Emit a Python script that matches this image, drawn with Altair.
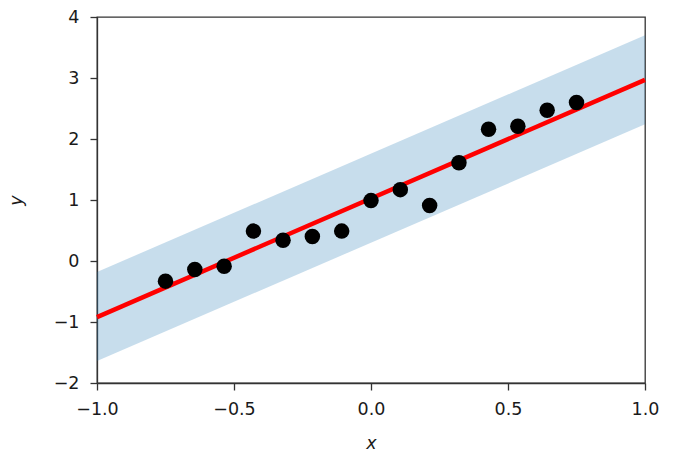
import altair as alt
import pandas as pd

# observed points
pts_x = [-0.75, -0.643, -0.536, -0.429, -0.321, -0.214, -0.107, 0.0,
         0.107, 0.214, 0.321, 0.429, 0.536, 0.643, 0.75]
pts_y = [-0.33, -0.14, -0.085, 0.49, 0.34, 0.40, 0.49, 0.99,
         1.17, 0.91, 1.61, 2.16, 2.21, 2.47, 2.60]

# fitted line and prediction band
fit_x = [-1.0, 1.0]
fit_y = [-0.92, 2.97]
band_lo = [-1.64, 2.24]
band_hi = [-0.18, 3.70]

x_ticks = [-1.0, -0.5, 0.0, 0.5, 1.0]
y_ticks = [-2, -1, 0, 1, 2, 3, 4]

pts = pd.DataFrame({"x": pts_x, "y": pts_y})
fit = pd.DataFrame({"x": fit_x, "y": fit_y, "lo": band_lo, "hi": band_hi})

FONT = "DejaVu Sans"
TXT = "#1a1a1a"
AX = "#333333"

xscale = alt.Scale(domain=[-1, 1], nice=False, zero=False)
yscale = alt.Scale(domain=[-2, 4], nice=False, zero=False)

xaxis = alt.Axis(values=x_ticks, format=".1f", title="x", grid=False,
                 tickSize=7, labelPadding=10, titlePadding=17, labelFlush=False)
yaxis = alt.Axis(values=y_ticks, format="d", title="y", grid=False,
                 tickSize=7, labelPadding=11, titlePadding=28, labelFlush=False)

band = alt.Chart(fit).mark_area(color="#1f77b4", opacity=0.25).encode(
    x=alt.X("x:Q", scale=xscale, axis=xaxis),
    y=alt.Y("lo:Q", scale=yscale, axis=yaxis),
    y2="hi:Q",
)

line = alt.Chart(fit).mark_line(color="#ff0000", strokeWidth=4.5).encode(
    x=alt.X("x:Q", scale=xscale),
    y=alt.Y("y:Q", scale=yscale),
)

points = alt.Chart(pts).mark_circle(color="black", size=240, opacity=1).encode(
    x=alt.X("x:Q", scale=xscale),
    y=alt.Y("y:Q", scale=yscale),
)

chart = (band + line + points).properties(
    width=548,
    height=366,
    background="white",
    autosize=alt.AutoSizeParams(type="none"),
    padding={"left": 97, "top": 17, "right": 36, "bottom": 83},
).configure_view(
    stroke=AX, strokeWidth=1.3
).configure_axis(
    labelFont=FONT, titleFont=FONT, labelFontSize=17.5, titleFontSize=17.5,
    labelColor=TXT, titleColor=TXT, titleFontStyle="italic",
    titleFontWeight="normal", domainColor=AX, domainWidth=1.3,
    tickColor=AX, tickWidth=1.3,
)

chart.save("out.html", embed_options={"renderer": "svg", "actions": False})
